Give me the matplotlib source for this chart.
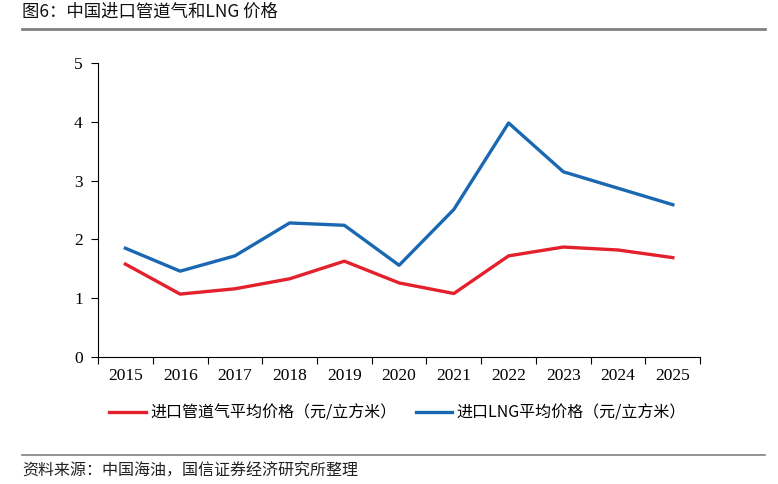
import matplotlib.pyplot as plt
from matplotlib.lines import Line2D

plt.rcParams['font.family'] = ['Noto Sans CJK SC', 'DejaVu Sans']

years = ["2015", "2016", "2017", "2018", "2019", "2020",
         "2021", "2022", "2023", "2024", "2025"]
pipeline_price = [1.58, 1.07, 1.16, 1.33, 1.63, 1.26, 1.08, 1.72, 1.87, 1.82, 1.69]
lng_price = [1.85, 1.46, 1.72, 2.28, 2.24, 1.56, 2.51, 3.98, 3.15, 2.87, 2.59]

red = '#E3202B'
blue = '#1A68B2'

fig = plt.figure(figsize=(7.78, 4.84), dpi=100)
ax = fig.add_axes([0.126, 0.2624, 0.774, 0.6074])

x = list(range(len(years)))
ax.plot(x, pipeline_price, color=red, lw=2.4, label='进口管道气平均价格（元/立方米）')
ax.plot(x, lng_price, color=blue, lw=2.4, label='进口LNG平均价格（元/立方米）')

ax.set_xlim(-0.5, len(years) - 0.5)
ax.set_ylim(0, 5)
ax.set_yticks([0, 1, 2, 3, 4, 5])
ax.set_xticks([i - 0.5 for i in range(len(years) + 1)])
ax.set_xticklabels([])
ax.set_xticks(x, minor=True)
ax.set_xticklabels(years, minor=True)
ax.tick_params(axis='x', which='minor', length=0, pad=8)
ax.tick_params(axis='x', which='major', length=5, width=0.8, direction='out')
ax.tick_params(axis='y', length=5, width=0.8, direction='out', pad=6)
for lab in ax.get_xticklabels(minor=True) + ax.get_yticklabels():
    lab.set_family('Liberation Serif')
    lab.set_fontsize(12.5)
for s in ['top', 'right']:
    ax.spines[s].set_visible(False)
for s in ['left', 'bottom']:
    ax.spines[s].set_linewidth(0.8)

handles = [Line2D([], [], color=red, lw=2.4), Line2D([], [], color=blue, lw=2.4)]
fig.legend(handles, ['进口管道气平均价格（元/立方米）', '进口LNG平均价格（元/立方米）'],
           loc='center', bbox_to_anchor=(0.511, 0.147), ncol=2, frameon=False,
           fontsize=11.5, handlelength=2.3, handletextpad=0.25, columnspacing=1.2)

fig.text(0.028, 0.975, '图6：中国进口管道气和LNG 价格', fontsize=12.5, fontweight='medium',
         va='center', ha='left', color='#111111')
fig.add_artist(Line2D([0.028, 0.983], [0.94, 0.94], color='#808080', lw=2))
fig.add_artist(Line2D([0.028, 0.983], [0.06, 0.06], color='#808080', lw=1.2))
fig.text(0.028, 0.027, '资料来源：中国海油，国信证券经济研究所整理', fontsize=11.5,
         va='center', ha='left', color='#222222')

fig.savefig('out.png', dpi=100)
